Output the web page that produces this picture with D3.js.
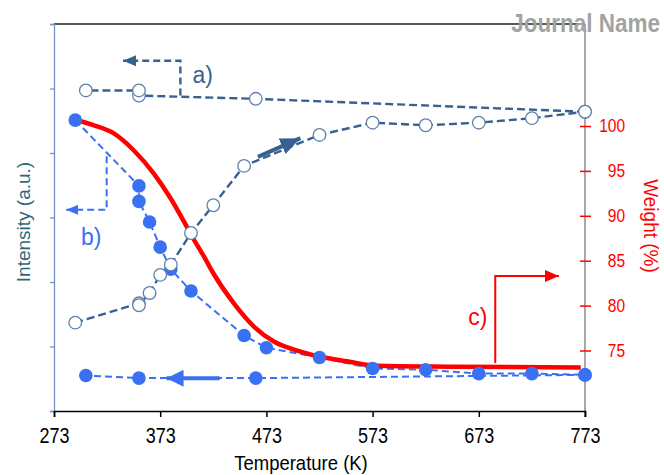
<!DOCTYPE html>
<html>
<head>
<meta charset="utf-8">
<script src="https://cdn.jsdelivr.net/npm/d3@7"></script>
<style>
  body { margin: 0; background: #fff; }
  svg { display: block; }
  text { font-family: "Liberation Sans", Arial, sans-serif; }
</style>
</head>
<body>
<script>
// a) open circles, heating + cooling
const aHeatTemp = [293, 353, 353, 363, 373, 383, 402, 423, 452, 523, 573, 623, 673, 723, 773];
const aHeatInt = [1.37, 1.67, 1.64, 1.83, 2.11, 2.27, 2.76, 3.19, 3.8, 4.28, 4.47, 4.43, 4.47, 4.54, 4.64];
const aCoolTemp = [773, 463, 353, 353, 303];
const aCoolInt = [4.64, 4.84, 4.89, 4.97, 4.97];

// b) filled circles, heating + cooling
const bHeatTemp = [293, 353, 353, 363, 373, 383, 402, 452, 473, 523, 573, 623, 673, 723, 773];
const bHeatInt = [4.51, 3.49, 3.25, 2.93, 2.54, 2.2, 1.86, 1.17, 0.98, 0.83, 0.66, 0.64, 0.58, 0.58, 0.56];
const bCoolTemp = [773, 463, 353, 303];
const bCoolInt = [0.56, 0.51, 0.51, 0.55];

// c) weight loss curve
const tgaTemp = [293, 310, 329, 348, 367, 382, 398, 404, 414, 423, 442, 461, 480, 499, 524, 549, 577, 648, 769];
const tgaWeight = [100.7, 100.1, 99.2, 97.3, 94.7, 92.1, 88.8, 87.5, 85.5, 83.6, 80.3, 77.7, 76.0, 75.1, 74.3, 73.8, 73.3, 73.2, 73.1];

const xTicks = [273, 373, 473, 573, 673, 773];
const weightTicks = [75, 80, 85, 90, 95, 100];
const intTicks = [0, 1, 2, 3, 4, 5, 6];

const width = 664;
const height = 475;
const plotLeft = 54, plotRight = 585, plotTop = 24, plotBottom = 411;

const darkBlue = "#38618f";
const brightBlue = "#3a70f2";

const svg = d3.select("body").append("svg")
  .attr("width", width)
  .attr("height", height);

const x = d3.scaleLinear().domain([273, 773]).range([plotLeft, plotRight]);
const yI = d3.scaleLinear().domain([0, 6]).range([plotBottom, plotTop]);
const yW = d3.scaleLinear().domain([75, 100]).range([350.5, 126]);

// arrow heads
const defs = svg.append("defs");
function marker(id, color, len, wid) {
  defs.append("marker")
    .attr("id", id)
    .attr("markerUnits", "userSpaceOnUse")
    .attr("viewBox", `0 0 ${len} ${wid}`)
    .attr("refX", len)
    .attr("refY", wid / 2)
    .attr("markerWidth", len)
    .attr("markerHeight", wid)
    .attr("orient", "auto")
    .append("path")
    .attr("d", `M0,0L${len},${wid / 2}L0,${wid}Z`)
    .attr("fill", color);
}
marker("headA", darkBlue, 13, 11);
marker("headB", brightBlue, 12, 10);
marker("headAbig", darkBlue, 20, 17);
marker("headBbig", brightBlue, 17, 17);
marker("headC", "#ff0000", 14, 12);

// frame
svg.append("line")
  .attr("x1", plotLeft).attr("x2", plotRight)
  .attr("y1", plotTop).attr("y2", plotTop)
  .attr("stroke", "#222").attr("stroke-width", 1.3);

// left axis (intensity, no labels)
const gLeft = svg.append("g")
  .attr("transform", `translate(${plotLeft},0)`)
  .call(d3.axisLeft(yI).tickValues(intTicks).tickSize(4).tickFormat(""));
gLeft.selectAll("path, line").attr("stroke", "#7393c4").attr("stroke-width", 1.3);

// right axis (weight)
svg.append("line")
  .attr("x1", plotRight).attr("x2", plotRight)
  .attr("y1", plotTop).attr("y2", plotBottom + 6)
  .attr("stroke", "#8a8a8a").attr("stroke-width", 1.5);
const gRight = svg.append("g")
  .attr("transform", `translate(${plotRight},0)`)
  .call(d3.axisRight(yW).tickValues(weightTicks).tickSize(6).tickPadding(0));
gRight.select(".domain").remove();
gRight.selectAll("line").attr("x1", -5).attr("stroke", "#ff0000").attr("stroke-width", 1.5);
gRight.selectAll("text")
  .attr("x", 40)
  .attr("text-anchor", "end")
  .attr("transform", "scale(1,1.2)")
  .attr("fill", "#ff0000")
  .style("font-size", "15.5px");

// bottom axis
const gBottom = svg.append("g")
  .attr("transform", `translate(0,${plotBottom})`)
  .call(d3.axisBottom(x).tickValues(xTicks).tickSize(6).tickFormat(d3.format("d")));
gBottom.selectAll("path, line").attr("stroke", "#000").attr("stroke-width", 1.5);
gBottom.selectAll("text")
  .attr("y", 32 / 1.18)
  .attr("dy", 0)
  .attr("transform", "scale(1,1.18)")
  .attr("fill", "#000")
  .style("font-size", "18px");

// axis titles
svg.append("text")
  .attr("transform", "translate(301,470) scale(1,1.12)")
  .attr("text-anchor", "middle")
  .style("font-size", "18.5px")
  .attr("fill", "#000")
  .text("Temperature (K)");

svg.append("text")
  .attr("transform", "translate(30,222) rotate(-90)")
  .attr("text-anchor", "middle")
  .style("font-size", "19px")
  .attr("fill", "#2c6878")
  .text("Intensity (a.u.)");

svg.append("text")
  .attr("transform", "translate(644,226) rotate(90) scale(1,1.1)")
  .attr("text-anchor", "middle")
  .style("font-size", "19px")
  .attr("fill", "#ff0000")
  .text("Weight (%)");

// series helpers
const zip = (xs, ys) => xs.map((t, i) => ({ t, v: ys[i] }));
const lineI = d3.line().x((d) => x(d.t)).y((d) => yI(d.v));

const aHeat = zip(aHeatTemp, aHeatInt);
const aCool = zip(aCoolTemp, aCoolInt);
const bHeat = zip(bHeatTemp, bHeatInt);
const bCool = zip(bCoolTemp, bCoolInt);
const tga = zip(tgaTemp, tgaWeight);

// b) dashed lines
[bHeat, bCool].forEach((s) => {
  svg.append("path")
    .datum(s)
    .attr("d", lineI)
    .attr("fill", "none")
    .attr("stroke", brightBlue)
    .attr("stroke-width", 2)
    .attr("stroke-dasharray", "7,4");
});

// c) weight curve
svg.append("path")
  .datum(tga)
  .attr("d", d3.line().curve(d3.curveMonotoneX).x((d) => x(d.t)).y((d) => yW(d.v)))
  .attr("fill", "none")
  .attr("stroke", "#ff0000")
  .attr("stroke-width", 4.5);

// a) dashed lines
[aHeat, aCool].forEach((s) => {
  svg.append("path")
    .datum(s)
    .attr("d", lineI)
    .attr("fill", "none")
    .attr("stroke", darkBlue)
    .attr("stroke-width", 2.4)
    .attr("stroke-dasharray", "8,4");
});

// markers
svg.append("g")
  .selectAll("circle")
  .data(bHeat.concat(bCool))
  .enter()
  .append("circle")
  .attr("cx", (d) => x(d.t))
  .attr("cy", (d) => yI(d.v))
  .attr("r", 6.8)
  .attr("fill", brightBlue);

svg.append("g")
  .selectAll("circle")
  .data(aHeat.concat(aCool))
  .enter()
  .append("circle")
  .attr("cx", (d) => x(d.t))
  .attr("cy", (d) => yI(d.v))
  .attr("r", 6.3)
  .attr("fill", "#fff")
  .attr("stroke", "#5f82ad")
  .attr("stroke-width", 1.3);

// annotations
const pathI = (pts) => "M" + pts.map((p) => `${x(p[0])},${yI(p[1])}`).join("L");
const pathW = (pts) => "M" + pts.map((p) => `${x(p[0])},${yW(p[1])}`).join("L");

// a) cooling bracket
svg.append("path")
  .attr("d", pathI([[392, 4.89], [392, 5.43], [338, 5.43]]))
  .attr("fill", "none")
  .attr("stroke", darkBlue)
  .attr("stroke-width", 2.4)
  .attr("stroke-dasharray", "7,4")
  .attr("marker-end", "url(#headA)");

// b) bracket
svg.append("path")
  .attr("d", pathI([[322.6, 3.95], [322.6, 3.12], [284.5, 3.12]]))
  .attr("fill", "none")
  .attr("stroke", brightBlue)
  .attr("stroke-width", 2)
  .attr("stroke-dasharray", "7,4")
  .attr("marker-end", "url(#headB)");

// heating arrow on a)
svg.append("path")
  .attr("d", pathI([[465, 3.94], [505, 4.23]]))
  .attr("stroke", darkBlue)
  .attr("stroke-width", 4)
  .attr("marker-end", "url(#headAbig)");

// cooling arrow on b)
svg.append("path")
  .attr("d", pathI([[429, 0.507], [379, 0.507]]))
  .attr("stroke", brightBlue)
  .attr("stroke-width", 4)
  .attr("marker-end", "url(#headBbig)");

// c) bracket
svg.append("path")
  .attr("d", pathW([[688.5, 73.6], [688.5, 83.3], [748.5, 83.3]]))
  .attr("fill", "none")
  .attr("stroke", "#ff0000")
  .attr("stroke-width", 2)
  .attr("marker-end", "url(#headC)");

const labels = [
  { text: "a)", t: 413, v: 5.21, scale: yI, color: darkBlue },
  { text: "b)", t: 308, v: 2.7, scale: yI, color: brightBlue },
  { text: "c)", t: 672, v: 78.7, scale: yW, color: "#ff0000" },
];
svg.append("g")
  .selectAll("text")
  .data(labels)
  .enter()
  .append("text")
  .attr("x", (d) => x(d.t))
  .attr("y", (d) => d.scale(d.v))
  .attr("text-anchor", "middle")
  .attr("dominant-baseline", "central")
  .style("font-size", "23px")
  .attr("fill", (d) => d.color)
  .text((d) => d.text);

// header
svg.append("text")
  .attr("transform", "translate(660,32) scale(1,1.15)")
  .attr("text-anchor", "end")
  .style("font-weight", "bold")
  .style("font-size", "22.5px")
  .attr("fill", "#a3a3a3")
  .text("Journal Name");
</script>
</body>
</html>
